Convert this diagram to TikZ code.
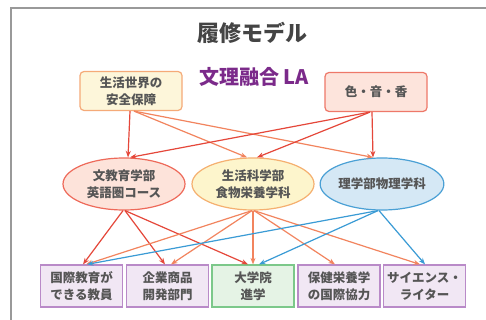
\documentclass[tikz,border=0pt]{standalone}
\usepackage{fontspec}
\newfontfamily\jp{Noto Sans CJK JP}
\usetikzlibrary{shapes.geometric,arrows.meta}
\definecolor{txt}{HTML}{555555}
\definecolor{redA}{HTML}{E5473A}
\definecolor{salm}{HTML}{F2845E}
\definecolor{bluA}{HTML}{3A9BD5}
\definecolor{ttl}{HTML}{444444}
\definecolor{purp}{HTML}{7B2A8A}
\definecolor{purpB}{HTML}{B98AC8}
\definecolor{purpF}{HTML}{F1E7F4}
\tikzset{
  lbl/.style={font=\jp\bfseries\fontsize{12.5}{17}\selectfont, text=txt, align=center, inner sep=0pt},
  topbox/.style={lbl, rectangle, rounded corners=4pt, line width=1.2pt, minimum width=102pt, minimum height=39pt},
  oval/.style={lbl, ellipse, line width=1.2pt, minimum width=122pt, minimum height=52pt},
  outbox/.style={lbl, rectangle, line width=1.2pt, draw=purpB, fill=purpF, minimum width=82pt, minimum height=42pt},
  arr/.style={-{Stealth[length=6.5pt,width=5pt]}, line width=1.2pt},
}
\begin{document}
\begin{tikzpicture}[x=1pt,y=-1pt]
\useasboundingbox (0,0) rectangle (486,320);
\fill[white] (0,0) rectangle (486,320);
\draw[line width=2pt, draw=black!40] (11,320) -- (11,8) -- (486,8);

\node[font=\jp\bfseries\fontsize{22}{26}\selectfont, text=ttl] (title) at (252,33) {履修モデル};
\node[font=\jp\bfseries\fontsize{20}{24}\selectfont, text=purp] (sub) at (254,77) {文理融合 LA};

\node[topbox, draw={rgb,255:red,245;green,170;blue,120}, fill={rgb,255:red,253;green,246;blue,218}] (A) at (131,91) {生活世界の\\安全保障};
\node[topbox, draw={rgb,255:red,238;green,120;blue,105}, fill={rgb,255:red,253;green,228;blue,220}] (B) at (376,92) {色・音・香};

\node[oval, draw={rgb,255:red,238;green,106;blue,90}, fill={rgb,255:red,253;green,227;blue,218}] (E1) at (124,184) {文教育学部\\英語圏コース};
\node[oval, draw={rgb,255:red,245;green,176;blue,112}, fill={rgb,255:red,253;green,245;blue,204}] (E2) at (253,184) {生活科学部\\食物栄養学科};
\node[oval, draw={rgb,255:red,74;green,160;blue,213}, fill={rgb,255:red,213;green,232;blue,245}] (E3) at (382,184) {理学部物理学科};

\node[outbox] (O1) at (81.5,286) {国際教育が\\できる教員};
\node[outbox] (O2) at (167.5,286) {企業商品\\開発部門};
\node[outbox, draw={rgb,255:red,124;green,200;blue,138}, fill={rgb,255:red,229;green,243;blue,229}] (O3) at (253,286) {大学院\\進学};
\node[outbox] (O4) at (339,286) {保健栄養学\\の国際協力};
\node[outbox] (O5) at (424.5,286) {サイエンス・\\ライター};

% top layer
\draw[arr, redA] ([xshift=-1pt]A.south) -- ([xshift=4pt]E1.north);
\draw[arr, salm] ([xshift=3pt]A.south) -- ([xshift=-6pt]E2.north);
\draw[arr, salm] ([xshift=3pt]A.south) -- ([xshift=-9pt]E3.north);
\draw[arr, redA] ([xshift=-6pt]B.south) -- ([xshift=6pt]E1.north);
\draw[arr, redA] ([xshift=-6pt]B.south) -- ([xshift=4pt]E2.north);
\draw[arr, redA] ([xshift=-4pt]B.south) -- ([xshift=-9pt]E3.north);

% bottom layer
\draw[arr, redA] ([xshift=-1pt]E1.south) -- ([xshift=1.5pt]O1.north);
\draw[arr, redA] ([xshift=1pt]E1.south) -- ([xshift=-2.5pt]O2.north);
\draw[arr, redA] ([xshift=1pt]E1.south) -- ([xshift=-5pt]O3.north);
\draw[arr, salm] ([xshift=-1pt]E2.south) -- ([xshift=4.5pt]O1.north);
\draw[arr, salm] ([xshift=-1pt]E2.south) -- ([xshift=3.5pt]O2.north);
\draw[arr, salm] (E2.south) -- (O3.north);
\draw[arr, salm] ([xshift=1pt]E2.south) -- ([xshift=-4pt]O4.north);
\draw[arr, salm] ([xshift=1pt]E2.south) -- ([xshift=-4.5pt]O5.north);
\draw[arr, bluA] ([xshift=-4pt]E3.south) -- ([xshift=5.5pt]O1.north);
\draw[arr, bluA] ([xshift=-4pt]E3.south) -- ([xshift=6pt]O3.north);
\draw[arr, bluA] ([xshift=-3pt]E3.south) -- ([xshift=0.5pt]O5.north);
\end{tikzpicture}
\end{document}
